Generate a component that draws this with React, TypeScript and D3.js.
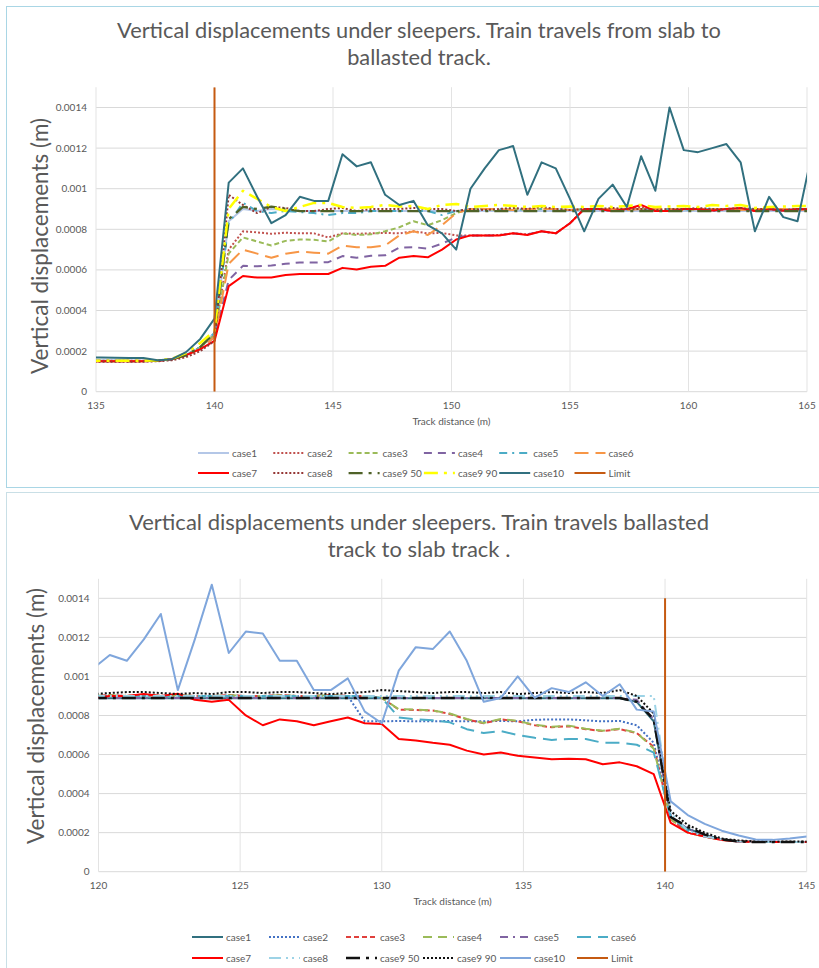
import React from "react";
import * as d3 from "d3";

// ---------- TOP CHART DATA (slab -> ballasted) ----------
const TOP_X = [134.6, 135.2, 135.8, 136.4, 137.0, 137.6, 138.2, 138.8, 139.4, 140.0, 140.6, 141.2, 141.8, 142.4, 143.0, 143.6, 144.2, 144.8, 145.4, 146.0, 146.6, 147.2, 147.8, 148.4, 149.0, 149.6, 150.2, 150.8, 151.4, 152.0, 152.6, 153.2, 153.8, 154.4, 155.0, 155.6, 156.2, 156.8, 157.4, 158.0, 158.6, 159.2, 159.8, 160.4, 161.0, 161.6, 162.2, 162.8, 163.4, 164.0, 164.6, 165.2];

const TOP_CASE1 = [0.000155, 0.000155, 0.000155, 0.000154, 0.000154, 0.000153, 0.00016, 0.00018, 0.00022, 0.00029,
  0.00084, 0.0009, 0.00089, 0.0009, 0.000895, 0.00089, 0.00089, 0.00089, 0.00089, 0.00089, 0.00089, 0.00089, 0.00089, 0.00089, 0.00089, 0.00089, 0.00089, 0.00089,
  0.00089, 0.00089, 0.00089, 0.00089, 0.00089, 0.00089, 0.00089, 0.00089, 0.00089, 0.00089, 0.00089, 0.00089, 0.00089, 0.00089, 0.00089, 0.00089, 0.00089, 0.00089, 0.00089, 0.00089, 0.00089, 0.00089, 0.00089, 0.00089];
const TOP_CASE2 = [0.000152, 0.000152, 0.000152, 0.000152, 0.000152, 0.000153, 0.00016, 0.00018, 0.00022, 0.00028,
  0.0007, 0.00079, 0.000785, 0.000778, 0.000783, 0.00078, 0.00078, 0.00076, 0.00078, 0.000778, 0.00078, 0.000782, 0.00078, 0.00079, 0.00078, 0.000782, 0.00077, 0.00077,
  0.00077, 0.000772, 0.00078, 0.000775, 0.00079, 0.00078, 0.00083, 0.0009, 0.0009, 0.00089, 0.0009, 0.00091, 0.00089, 0.00089, 0.0009, 0.0009, 0.00089, 0.0009, 0.0009, 0.00089, 0.0009, 0.00089, 0.0009, 0.0009];
const TOP_CASE3 = [0.00015, 0.00015, 0.00015, 0.00015, 0.00015, 0.000153, 0.00016, 0.00018, 0.00022, 0.00028,
  0.00068, 0.00076, 0.00074, 0.00072, 0.000743, 0.00075, 0.000748, 0.00074, 0.00078, 0.000772, 0.000775, 0.00079, 0.00081, 0.00084, 0.00082, 0.000845, 0.00088, 0.0009,
  0.0009, 0.000895, 0.0009, 0.000895, 0.0009, 0.0009, 0.000895, 0.0009, 0.0009, 0.000895, 0.0009, 0.0009, 0.000895, 0.0009, 0.0009, 0.000895, 0.0009, 0.0009, 0.000895, 0.0009, 0.0009, 0.000895, 0.0009, 0.0009];
const TOP_CASE4 = [0.00015, 0.00015, 0.00015, 0.00015, 0.00015, 0.000153, 0.00016, 0.00018, 0.00021, 0.00027,
  0.00055, 0.00062, 0.000618, 0.000622, 0.00063, 0.000637, 0.000636, 0.000638, 0.000668, 0.00066, 0.00067, 0.000672, 0.00071, 0.000712, 0.000705, 0.00073, 0.00076, 0.00077,
  0.00077, 0.00077, 0.00078, 0.000775, 0.00079, 0.00078, 0.00083, 0.0009, 0.0009, 0.00089, 0.0009, 0.0009, 0.00089, 0.00089, 0.0009, 0.0009, 0.00089, 0.0009, 0.0009, 0.00089, 0.0009, 0.00089, 0.0009, 0.0009];
const TOP_CASE5 = [0.00015, 0.00015, 0.00015, 0.00015, 0.00015, 0.000153, 0.00016, 0.00018, 0.00022, 0.00029,
  0.00083, 0.00093, 0.00089, 0.00088, 0.00089, 0.000885, 0.00088, 0.00087, 0.00088, 0.00088, 0.00089, 0.00089, 0.00089, 0.00089, 0.00089, 0.00087, 0.00089, 0.0009,
  0.0009, 0.0009, 0.000895, 0.0009, 0.0009, 0.0009, 0.000895, 0.0009, 0.0009, 0.0009, 0.000895, 0.0009, 0.0009, 0.0009, 0.000895, 0.0009, 0.0009, 0.0009, 0.000895, 0.0009, 0.0009, 0.0009, 0.000895, 0.0009];
const TOP_CASE6 = [0.00015, 0.00015, 0.00015, 0.00015, 0.00015, 0.000153, 0.00016, 0.00018, 0.00021, 0.00027,
  0.00063, 0.0007, 0.00068, 0.00066, 0.00068, 0.00069, 0.000685, 0.00068, 0.00072, 0.000712, 0.000712, 0.00072, 0.00077, 0.00079, 0.000772, 0.00082, 0.00088, 0.0009,
  0.0009, 0.0009, 0.000895, 0.0009, 0.0009, 0.0009, 0.000895, 0.0009, 0.0009, 0.0009, 0.000895, 0.0009, 0.0009, 0.0009, 0.000895, 0.0009, 0.0009, 0.0009, 0.000895, 0.0009, 0.0009, 0.0009, 0.000895, 0.0009];
const TOP_CASE7 = [0.00015, 0.00015, 0.00015, 0.00015, 0.00015, 0.000152, 0.00016, 0.00018, 0.00021, 0.00025,
  0.00052, 0.00057, 0.000562, 0.000563, 0.000575, 0.00058, 0.00058, 0.00058, 0.00061, 0.000602, 0.000615, 0.00062, 0.00066, 0.000668, 0.000662, 0.0007, 0.00075, 0.00077,
  0.00077, 0.00077, 0.00078, 0.000772, 0.00079, 0.00078, 0.00083, 0.0009, 0.0009, 0.00089, 0.0009, 0.00092, 0.00089, 0.00089, 0.0009, 0.0009, 0.000893, 0.0009, 0.000905, 0.00089, 0.0009, 0.000893, 0.0009, 0.000898];
const TOP_CASE8 = [0.000148, 0.000148, 0.000148, 0.000148, 0.000148, 0.00015, 0.000155, 0.00017, 0.0002, 0.00025,
  0.00097, 0.00092, 0.00088, 0.00091, 0.000905, 0.00089, 0.00089, 0.0009, 0.000905, 0.00089, 0.0009, 0.0009, 0.0009, 0.000905, 0.0009, 0.0009, 0.00089, 0.0009,
  0.000895, 0.0009, 0.000905, 0.0009, 0.00091, 0.0009, 0.000895, 0.0009, 0.0009, 0.000905, 0.0009, 0.0009, 0.000895, 0.0009, 0.0009, 0.000905, 0.0009, 0.0009, 0.000905, 0.0009, 0.0009, 0.000895, 0.0009, 0.0009];
const TOP_CASE9_50 = [0.000152, 0.000152, 0.000152, 0.000152, 0.000152, 0.000153, 0.00016, 0.00018, 0.00022, 0.00029,
  0.00085, 0.00091, 0.0009, 0.000912, 0.0009, 0.00089, 0.00089, 0.00089, 0.00089, 0.00089, 0.00089, 0.00089, 0.00089, 0.00089, 0.00089, 0.00089, 0.00089, 0.00089,
  0.00089, 0.00089, 0.00089, 0.00089, 0.00089, 0.00089, 0.00089, 0.00089, 0.00089, 0.00089, 0.00089, 0.00089, 0.00089, 0.00089, 0.00089, 0.00089, 0.00089, 0.00089, 0.00089, 0.00089, 0.00089, 0.00089, 0.00089, 0.00089];
const TOP_CASE9_90 = [0.000152, 0.000152, 0.000152, 0.000152, 0.000152, 0.000155, 0.000162, 0.00019, 0.00024, 0.0003,
  0.0009, 0.00099, 0.00095, 0.00091, 0.00089, 0.00091, 0.00093, 0.00093, 0.00091, 0.000905, 0.00091, 0.00092, 0.000912, 0.000915, 0.0009, 0.00092, 0.000925, 0.00091,
  0.000915, 0.00092, 0.000915, 0.00091, 0.000915, 0.00091, 0.000912, 0.00091, 0.000915, 0.00091, 0.000915, 0.00092, 0.00091, 0.000912, 0.000915, 0.00091, 0.00092, 0.000915, 0.00092, 0.000905, 0.00091, 0.000912, 0.000915, 0.000915];
const TOP_CASE10 = [0.000168, 0.000168, 0.000167, 0.000166, 0.000166, 0.000155, 0.00016, 0.000195, 0.00026, 0.00036,
  0.00103, 0.0011, 0.00096, 0.00083, 0.00087, 0.00096, 0.00094, 0.00094, 0.00117, 0.00111, 0.00113, 0.00097, 0.00092, 0.00094, 0.00082, 0.00078, 0.0007, 0.001,
  0.0011, 0.00119, 0.00121, 0.00097, 0.00113, 0.0011, 0.00095, 0.00079, 0.00095, 0.00102, 0.00091, 0.00116, 0.00099, 0.0014, 0.00119, 0.00118, 0.0012, 0.00122, 0.00113, 0.00079, 0.00096, 0.00086, 0.00084, 0.00117];
const TOP_LIMIT_X = [140, 140];
const TOP_LIMIT_Y = [0, 0.0015];

const TOP_X_TICKS = [135, 140, 145, 150, 155, 160, 165];

// ---------- BOTTOM CHART DATA (ballasted -> slab) ----------
const BOT_X = [119.8, 120.4, 121.0, 121.6, 122.2, 122.8, 123.4, 124.0, 124.6, 125.2, 125.8, 126.4, 127.0, 127.6, 128.2, 128.8, 129.4, 130.0, 130.6, 131.2, 131.8, 132.4, 133.0, 133.6, 134.2, 134.8, 135.4, 136.0, 136.6, 137.2, 137.8, 138.4, 139.0, 139.6, 140.2, 140.8, 141.4, 142.0, 142.6, 143.2, 143.8, 144.4, 145.0];

const BOT_CASE1 = [0.000888, 0.000888, 0.000888, 0.000888, 0.000888, 0.000888, 0.000888, 0.000888, 0.000888, 0.000888, 0.000888, 0.000888, 0.000888, 0.000888, 0.000888, 0.000888, 0.000888, 0.000888,
  0.000888, 0.000888, 0.000888, 0.000888, 0.000888, 0.000888, 0.000888, 0.000888, 0.000888, 0.000888, 0.000888, 0.000888, 0.000888, 0.000888, 0.00087, 0.00077,
  0.00028, 0.00022, 0.00019, 0.000165, 0.000155, 0.000152, 0.000152, 0.000152, 0.000152];
const BOT_CASE2 = [0.0009, 0.000902, 0.0009, 0.000902, 0.0009, 0.000902, 0.0009, 0.0009, 0.000902, 0.0009, 0.0009, 0.000902, 0.0009, 0.0009, 0.000902, 0.0009, 0.00077, 0.00077,
  0.000772, 0.00077, 0.00077, 0.000772, 0.00077, 0.00077, 0.000772, 0.00077, 0.000778, 0.00078, 0.00078, 0.000775, 0.00077, 0.000772, 0.00075, 0.00066,
  0.00028, 0.00021, 0.00018, 0.000165, 0.000155, 0.000152, 0.000152, 0.000152, 0.000152];
const BOT_CASE3 = [0.0009, 0.000905, 0.0009, 0.000905, 0.0009, 0.000905, 0.0009, 0.0009, 0.000905, 0.0009, 0.0009, 0.000905, 0.0009, 0.0009, 0.000905, 0.0009, 0.0009, 0.00089,
  0.00083, 0.000828, 0.000825, 0.000808, 0.00078, 0.00076, 0.00078, 0.00077, 0.00075, 0.00074, 0.000745, 0.00073, 0.00072, 0.00073, 0.00071, 0.00064,
  0.00027, 0.0002, 0.00018, 0.000163, 0.000155, 0.000152, 0.000152, 0.000152, 0.000152];
const BOT_CASE4 = [0.0009, 0.000904, 0.0009, 0.000904, 0.0009, 0.000904, 0.0009, 0.0009, 0.000904, 0.0009, 0.0009, 0.000904, 0.0009, 0.0009, 0.000904, 0.0009, 0.0009, 0.00089,
  0.000832, 0.00083, 0.000826, 0.00081, 0.000782, 0.000762, 0.000782, 0.000772, 0.000752, 0.000742, 0.000748, 0.000732, 0.000722, 0.000732, 0.000712, 0.00063,
  0.00027, 0.0002, 0.00018, 0.000163, 0.000155, 0.000152, 0.000152, 0.000152, 0.000152];
const BOT_CASE5 = [0.00089, 0.00089, 0.00089, 0.00089, 0.00089, 0.00089, 0.00089, 0.00089, 0.00089, 0.00089, 0.00089, 0.00089, 0.00089, 0.00089, 0.00089, 0.00089, 0.00089, 0.00089,
  0.00089, 0.00089, 0.00089, 0.00089, 0.00089, 0.00089, 0.00089, 0.00089, 0.00089, 0.00089, 0.00089, 0.00089, 0.00089, 0.00089, 0.00088, 0.00078,
  0.00028, 0.00022, 0.00019, 0.000165, 0.000155, 0.000152, 0.000152, 0.000152, 0.000152];
const BOT_CASE6 = [0.0009, 0.0009, 0.0009, 0.0009, 0.0009, 0.0009, 0.0009, 0.0009, 0.0009, 0.0009, 0.0009, 0.0009, 0.0009, 0.0009, 0.0009, 0.0009, 0.0009, 0.00089,
  0.00079, 0.00078, 0.000775, 0.000765, 0.00073, 0.00071, 0.00072, 0.0007, 0.000686, 0.000675, 0.00068, 0.00068, 0.00066, 0.00066, 0.00065, 0.00061,
  0.00028, 0.00021, 0.00018, 0.000165, 0.000155, 0.000152, 0.000152, 0.000152, 0.000152];
const BOT_CASE7 = [0.00089, 0.0009, 0.0009, 0.00091, 0.0009, 0.000912, 0.00088, 0.00087, 0.00088, 0.0008, 0.00075, 0.00078, 0.00077, 0.00075, 0.00077, 0.00079, 0.00076, 0.000757,
  0.00068, 0.000672, 0.00066, 0.00065, 0.00062, 0.0006, 0.00061, 0.000594, 0.000585, 0.000576, 0.000578, 0.000576, 0.00055, 0.00056, 0.00054, 0.0005,
  0.00025, 0.0002, 0.00018, 0.000162, 0.000155, 0.000152, 0.000152, 0.000152, 0.000152];
const BOT_CASE8 = [0.0009, 0.0009, 0.0009, 0.0009, 0.0009, 0.0009, 0.0009, 0.0009, 0.0009, 0.0009, 0.0009, 0.0009, 0.0009, 0.0009, 0.0009, 0.0009, 0.0009, 0.0009,
  0.0009, 0.0009, 0.0009, 0.0009, 0.0009, 0.0009, 0.0009, 0.0009, 0.0009, 0.0009, 0.0009, 0.0009, 0.0009, 0.0009, 0.0009, 0.0009,
  0.0003, 0.00021, 0.00018, 0.000165, 0.000155, 0.000152, 0.000152, 0.000152, 0.000152];
const BOT_CASE9_50 = [0.00089, 0.00089, 0.00089, 0.00089, 0.00089, 0.00089, 0.00089, 0.00089, 0.00089, 0.00089, 0.00089, 0.00089, 0.00089, 0.00089, 0.00089, 0.00089, 0.00089, 0.00089,
  0.00089, 0.00089, 0.00089, 0.00089, 0.00089, 0.00089, 0.00089, 0.00089, 0.00089, 0.00089, 0.00089, 0.00089, 0.00089, 0.00089, 0.00087, 0.00078,
  0.00028, 0.00023, 0.00019, 0.000165, 0.000155, 0.000152, 0.000152, 0.000152, 0.000152];
const BOT_CASE9_90 = [0.00091, 0.000915, 0.00092, 0.00092, 0.000915, 0.00091, 0.000915, 0.00091, 0.00092, 0.00092, 0.000915, 0.00092, 0.00092, 0.000915, 0.00091, 0.000915, 0.00092, 0.00093,
  0.000925, 0.00092, 0.000915, 0.00092, 0.00092, 0.000915, 0.00092, 0.00091, 0.000915, 0.00092, 0.000915, 0.00092, 0.000915, 0.00093, 0.0009, 0.00081,
  0.00031, 0.00024, 0.0002, 0.00017, 0.00016, 0.000155, 0.000155, 0.000155, 0.000155];
const BOT_CASE10 = [0.00104, 0.00111, 0.00108, 0.00119, 0.00132, 0.00093, 0.00119, 0.00147, 0.00112, 0.00123, 0.00122, 0.00108, 0.00108, 0.00093, 0.00093, 0.00099, 0.00082, 0.00076,
  0.00103, 0.00115, 0.00114, 0.00123, 0.00108, 0.00087, 0.00089, 0.001, 0.00089, 0.00094, 0.00092, 0.00097, 0.0009, 0.00096, 0.00083, 0.00082,
  0.00036, 0.00029, 0.000245, 0.00021, 0.000185, 0.000165, 0.000163, 0.00017, 0.00018];
const BOT_LIMIT_X = [140, 140];
const BOT_LIMIT_Y = [0, 0.0014];

const BOT_X_TICKS = [120, 125, 130, 135, 140, 145];

const Y_TICKS = [0, 0.0002, 0.0004, 0.0006, 0.0008, 0.001, 0.0012, 0.0014];
const Y_TICK_LABELS = ["0", "0.0002", "0.0004", "0.0006", "0.0008", "0.001", "0.0012", "0.0014"];

const SERIES_NAMES = ["case1", "case2", "case3", "case4", "case5", "case6", "case7", "case8", "case9 50", "case9 90", "case10", "Limit"];

type Style = { color: string; dash: string; width: number };

const TOP_STYLES: Style[] = [
  { color: "#b4c7e7", dash: "", width: 2 },
  { color: "#c0504d", dash: "2,2", width: 2 },
  { color: "#9bbb59", dash: "5,3", width: 2 },
  { color: "#8064a2", dash: "8,6", width: 2 },
  { color: "#4bacc6", dash: "8,5,2,5", width: 2 },
  { color: "#f79646", dash: "14,7", width: 2 },
  { color: "#ff0000", dash: "", width: 2 },
  { color: "#953735", dash: "2,2", width: 2 },
  { color: "#4f6228", dash: "14,6,3,6", width: 2.25 },
  { color: "#ffff00", dash: "14,6,3,6", width: 2.5 },
  { color: "#31707f", dash: "", width: 2 },
  { color: "#c55a11", dash: "", width: 2 },
];

const BOT_STYLES: Style[] = [
  { color: "#31707f", dash: "", width: 2 },
  { color: "#4472c4", dash: "2,2", width: 2 },
  { color: "#e0403c", dash: "5,3", width: 2 },
  { color: "#9bbb59", dash: "9,6", width: 2 },
  { color: "#8064a2", dash: "8,5,2,5", width: 2 },
  { color: "#4bacc6", dash: "14,7", width: 2 },
  { color: "#ff0000", dash: "", width: 2 },
  { color: "#9dd3e6", dash: "12,5,2,4,2,5", width: 2 },
  { color: "#111111", dash: "14,6,3,6", width: 2.5 },
  { color: "#111111", dash: "2,2", width: 2 },
  { color: "#7fa6dc", dash: "", width: 2 },
  { color: "#c55a11", dash: "", width: 2 },
];

const FONT = "Lato, 'Open Sans', sans-serif";
const TXT = "#595959";

type ChartProps = {
  id: string;
  titleLines: string[];
  titleY: number[];
  titleSize: number;
  xs: number[];
  series: number[][];
  limitX: number[];
  limitY: number[];
  styles: Style[];
  xDomain: [number, number];
  xTicks: number[];
  plot: { left: number; right: number; top: number; bottom: number };
  yTitle: { x: number; y: number };
  legend: { x0: number; step: number; y1: number; y2: number };
};

function Chart(p: ChartProps) {
  const x = d3.scaleLinear().domain(p.xDomain).range([p.plot.left, p.plot.right]);
  const y = d3.scaleLinear().domain([0, 0.0015]).range([p.plot.bottom, p.plot.top]);
  const line = d3
    .line<number>()
    .x((_, i) => x(p.xs[i]))
    .y((d) => y(d));
  const limitLine = d3
    .line<number>()
    .x((_, i) => x(p.limitX[i]))
    .y((d) => y(d));
  const cx = (p.plot.left + p.plot.right) / 2;
  const items = SERIES_NAMES.map((n, i) => ({ name: n, style: p.styles[i], row: Math.floor(i / 6), col: i % 6 }));
  return (
    <g>
      <defs>
        <clipPath id={p.id + "clip"}>
          <rect x={p.plot.left} y={p.plot.top} width={p.plot.right - p.plot.left} height={p.plot.bottom - p.plot.top} />
        </clipPath>
      </defs>
      {p.titleLines.map((t, i) => (
        <text key={i} x={419} y={p.titleY[i]} textAnchor="middle" fontFamily={FONT} fontWeight={400} fontSize={p.titleSize} fill={TXT}>
          {t}
        </text>
      ))}
      {Y_TICKS.map((v) => (
        <line key={"gy" + v} x1={p.plot.left} x2={p.plot.right} y1={y(v)} y2={y(v)} stroke="#d9d9d9" strokeWidth={1} />
      ))}
      {p.xTicks.map((v) => (
        <line key={"gx" + v} x1={x(v)} x2={x(v)} y1={p.plot.top} y2={p.plot.bottom} stroke="#e3e3e3" strokeWidth={1} />
      ))}
      {Y_TICKS.map((v, i) => (
        <text key={"ty" + v} x={p.plot.left - 9} y={y(v)} dy="0.35em" textAnchor="end" fontFamily={FONT} fontSize={10} fill={TXT}>
          {Y_TICK_LABELS[i]}
        </text>
      ))}
      {p.xTicks.map((v) => (
        <text key={"tx" + v} x={x(v)} y={p.plot.bottom + 17} textAnchor="middle" fontFamily={FONT} fontSize={10} fill={TXT}>
          {v}
        </text>
      ))}
      <text x={cx} y={p.plot.bottom + 33} textAnchor="middle" fontFamily={FONT} fontSize={10} fill={TXT}>
        Track distance (m)
      </text>
      <text
        transform={`translate(${p.yTitle.x},${p.yTitle.y}) rotate(-90)`}
        textAnchor="middle"
        dy="0.35em"
        fontFamily={FONT}
        fontSize={22.5}
        fill={TXT}
      >
        Vertical displacements (m)
      </text>
      <g clipPath={`url(#${p.id}clip)`}>
        {p.series.map((vals, i) => (
          <path
            key={"s" + i}
            d={line(vals) || ""}
            fill="none"
            stroke={p.styles[i].color}
            strokeWidth={p.styles[i].width}
            strokeDasharray={p.styles[i].dash || undefined}
            strokeLinejoin="round"
          />
        ))}
        <path d={limitLine(p.limitY) || ""} fill="none" stroke={p.styles[11].color} strokeWidth={2} />
      </g>
      {items.map((it) => {
        const lx = p.legend.x0 + it.col * p.legend.step;
        const ly = it.row === 0 ? p.legend.y1 : p.legend.y2;
        return (
          <g key={"lg" + it.name}>
            <line
              x1={lx}
              x2={lx + 31}
              y1={ly}
              y2={ly}
              stroke={it.style.color}
              strokeWidth={it.style.width}
              strokeDasharray={it.style.dash || undefined}
            />
            <text x={lx + 34} y={ly} dy="0.35em" fontFamily={FONT} fontSize={10} fill={TXT}>
              {it.name}
            </text>
          </g>
        );
      })}
    </g>
  );
}

export default function App() {
  return (
    <svg width={819} height={968} style={{ position: "absolute", left: 0, top: 0, background: "#fff" }}>
      <rect x={0} y={0} width={819} height={968} fill="#fff" />
      <rect x={6.5} y={6.5} width={830} height={481} fill="#fff" stroke="#a9d6e5" strokeWidth={1} />
      <rect x={6.5} y={492.5} width={830} height={490} fill="#fff" stroke="#c9dfe6" strokeWidth={1} />
      <Chart
        id="top"
        titleLines={["Vertical displacements under sleepers. Train travels from slab to", "ballasted track."]}
        titleY={[38, 65]}
        titleSize={21.8}
        xs={TOP_X}
        series={[TOP_CASE1, TOP_CASE2, TOP_CASE3, TOP_CASE4, TOP_CASE5, TOP_CASE6, TOP_CASE7, TOP_CASE8, TOP_CASE9_50, TOP_CASE9_90, TOP_CASE10]}
        limitX={TOP_LIMIT_X}
        limitY={TOP_LIMIT_Y}
        styles={TOP_STYLES}
        xDomain={[135, 165]}
        xTicks={TOP_X_TICKS}
        plot={{ left: 96, right: 807, top: 87.2, bottom: 391.7 }}
        yTitle={{ x: 40, y: 246 }}
        legend={{ x0: 198, step: 75.3, y1: 453, y2: 473 }}
      />
      <Chart
        id="bot"
        titleLines={["Vertical displacements under sleepers. Train travels ballasted", "track to slab track ."]}
        titleY={[530, 557]}
        titleSize={22}
        xs={BOT_X}
        series={[BOT_CASE1, BOT_CASE2, BOT_CASE3, BOT_CASE4, BOT_CASE5, BOT_CASE6, BOT_CASE7, BOT_CASE8, BOT_CASE9_50, BOT_CASE9_90, BOT_CASE10]}
        limitX={BOT_LIMIT_X}
        limitY={BOT_LIMIT_Y}
        styles={BOT_STYLES}
        xDomain={[120, 145]}
        xTicks={BOT_X_TICKS}
        plot={{ left: 98.5, right: 806.7, top: 578.8, bottom: 871.7 }}
        yTitle={{ x: 36, y: 716 }}
        legend={{ x0: 192, step: 77, y1: 937, y2: 958 }}
      />
    </svg>
  );
}
